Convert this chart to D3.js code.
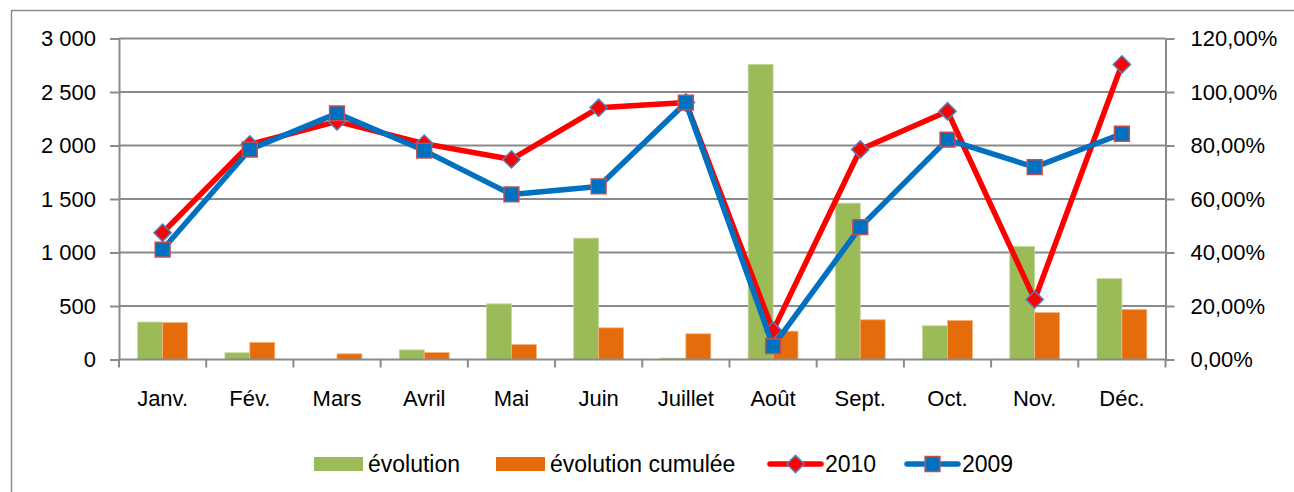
<!DOCTYPE html>
<html>
<head>
<meta charset="utf-8">
<script src="https://cdn.jsdelivr.net/npm/d3@7"></script>
<style>
  body { margin: 0; background: #fff; }
  text { font-family: "Liberation Sans", Arial, sans-serif; fill: #000; }
</style>
</head>
<body>
<svg id="chart" width="1294" height="492"></svg>
<script>
// data
var months = ["Janv.", "Fév.", "Mars", "Avril", "Mai", "Juin", "Juillet", "Août", "Sept.", "Oct.", "Nov.", "Déc."];
var evolution = [350, 63, 0, 90, 520, 1134, 12, 2758, 1461, 315, 1057, 755];
var evolutionCumulee = [345, 160, 53, 65, 140, 296, 240, 265, 371, 365, 439, 467];
var serie2010 = [0.474, 0.804, 0.89, 0.807, 0.748, 0.941, 0.961, 0.108, 0.785, 0.928, 0.224, 1.103];
var serie2009 = [0.411, 0.785, 0.92, 0.781, 0.617, 0.647, 0.96, 0.05, 0.495, 0.822, 0.719, 0.844];
var leftTicks = [0, 500, 1000, 1500, 2000, 2500, 3000];
var rightTicks = [0, 0.2, 0.4, 0.6, 0.8, 1.0, 1.2];

var svg = d3.select("#chart"),
    margin = { top: 38.5, left: 119, right: 1165.5, bottom: 359.5 };

// outer frame of the excel chart
svg.append("rect")
    .attr("x", 11.5).attr("y", 10.5)
    .attr("width", 1300).attr("height", 500)
    .attr("fill", "none").attr("stroke", "#8c8c8c").attr("stroke-width", 1.5);

var x = d3.scaleBand().domain(months).range([margin.left, margin.right]),
    yLeft = d3.scaleLinear().domain([0, 3000]).range([margin.bottom, margin.top]),
    yRight = d3.scaleLinear().domain([0, 1.2]).range([margin.bottom, margin.top]);

var fmtLeft = function (d) { return d3.format(",")(d).replace(",", " "); };
var fmtRight = function (d) { return d3.format(".2f")(d * 100).replace(".", ",") + "%"; };

// gridlines
svg.append("g")
    .selectAll("line")
    .data(leftTicks.slice(1))
    .join("line")
    .attr("x1", margin.left).attr("x2", margin.right)
    .attr("y1", function (d) { return yLeft(d); })
    .attr("y2", function (d) { return yLeft(d); })
    .attr("stroke", "#8a8a8a").attr("stroke-width", 2);

// bars
var bw = x.bandwidth() / 3.5;
var barGroups = [
    { data: evolution, color: "#9bbb59", edge: "#c3d69b", off: 0.75 * bw },
    { data: evolutionCumulee, color: "#e46c0a", edge: "#f5b27a", off: 1.75 * bw }
];
barGroups.forEach(function (g) {
    svg.append("g")
        .selectAll("rect")
        .data(g.data)
        .join("rect")
        .attr("x", function (d, i) { return x(months[i]) + g.off; })
        .attr("y", function (d) { return yLeft(d); })
        .attr("width", bw)
        .attr("height", function (d) { return yLeft(0) - yLeft(d); })
        .attr("fill", g.color)
        .attr("stroke", g.edge).attr("stroke-width", 0.8);
});

// axes
var axisColor = "#8a8a8a";
function styleAxis(g) {
    g.selectAll("path, line").attr("stroke", axisColor).attr("stroke-width", 2);
    g.selectAll("text").attr("font-size", 22).attr("fill", "#000")
        .style("font-family", "'Liberation Sans', Arial, sans-serif");
}

svg.append("g")
    .attr("transform", "translate(" + margin.left + ",0)")
    .call(d3.axisLeft(yLeft).tickValues(leftTicks).tickFormat(fmtLeft).tickSize(9).tickSizeOuter(0).tickPadding(14))
    .call(styleAxis);

svg.append("g")
    .attr("transform", "translate(" + margin.right + ",0)")
    .call(d3.axisRight(yRight).tickValues(rightTicks).tickFormat(fmtRight).tickSize(9).tickSizeOuter(0).tickPadding(16))
    .call(styleAxis);

var xAxis = svg.append("g")
    .attr("transform", "translate(0," + margin.bottom + ")");
xAxis.append("line")
    .attr("x1", margin.left).attr("x2", margin.right)
    .attr("stroke", axisColor).attr("stroke-width", 2);
xAxis.selectAll(".tk")
    .data(months.concat(["end"]))
    .join("line")
    .attr("class", "tk")
    .attr("x1", function (d, i) { return margin.left + i * x.step(); })
    .attr("x2", function (d, i) { return margin.left + i * x.step(); })
    .attr("y1", 0).attr("y2", 8)
    .attr("stroke", axisColor).attr("stroke-width", 2);
xAxis.selectAll("text")
    .data(months)
    .join("text")
    .attr("x", function (d) { return x(d) + x.bandwidth() / 2; })
    .attr("y", 46)
    .attr("text-anchor", "middle")
    .attr("font-size", 22)
    .text(function (d) { return d; });

// lines
var lineGen = d3.line()
    .x(function (d, i) { return x(months[i]) + x.bandwidth() / 2; })
    .y(function (d) { return yRight(d); });

var diamond = d3.symbol().type(d3.symbolDiamond2).size(190);
var square = d3.symbol().type(d3.symbolSquare2).size(280);

function drawSeries(values, color, symbol, markerStroke) {
    svg.append("path")
        .datum(values)
        .attr("d", lineGen)
        .attr("fill", "none")
        .attr("stroke", color)
        .attr("stroke-width", 5.5)
        .attr("stroke-linejoin", "round");
    svg.append("g")
        .selectAll("path")
        .data(values)
        .join("path")
        .attr("transform", function (d, i) {
            return "translate(" + (x(months[i]) + x.bandwidth() / 2) + "," + yRight(d) + ")";
        })
        .attr("d", symbol)
        .attr("fill", color)
        .attr("stroke", markerStroke)
        .attr("stroke-width", 1.5);
}
drawSeries(serie2010, "#ff0000", diamond, "#4f81bd");
drawSeries(serie2009, "#0070c0", square, "#c0504d");

// legend
var legend = svg.append("g");
var legY = 464;
legend.append("rect").attr("x", 314).attr("y", legY - 7).attr("width", 49).attr("height", 14).attr("fill", "#9bbb59");
legend.append("text").attr("x", 368).attr("y", legY + 8).attr("font-size", 23).text("évolution");
legend.append("rect").attr("x", 496).attr("y", legY - 7).attr("width", 49).attr("height", 14).attr("fill", "#e46c0a");
legend.append("text").attr("x", 550).attr("y", legY + 8).attr("font-size", 23).text("évolution cumulée");

var legLines = [
    { x0: 770, color: "#ff0000", sym: diamond, ms: "#4f81bd", label: "2010" },
    { x0: 907, color: "#0070c0", sym: square, ms: "#c0504d", label: "2009" }
];
legLines.forEach(function (l) {
    legend.append("line")
        .attr("x1", l.x0).attr("x2", l.x0 + 51)
        .attr("y1", legY).attr("y2", legY)
        .attr("stroke", l.color).attr("stroke-width", 5.5).attr("stroke-linecap", "round");
    legend.append("path")
        .attr("transform", "translate(" + (l.x0 + 25.5) + "," + legY + ")")
        .attr("d", l.sym)
        .attr("fill", l.color).attr("stroke", l.ms).attr("stroke-width", 1.5);
    legend.append("text").attr("x", l.x0 + 55).attr("y", legY + 8).attr("font-size", 23).text(l.label);
});
</script>
</body>
</html>
